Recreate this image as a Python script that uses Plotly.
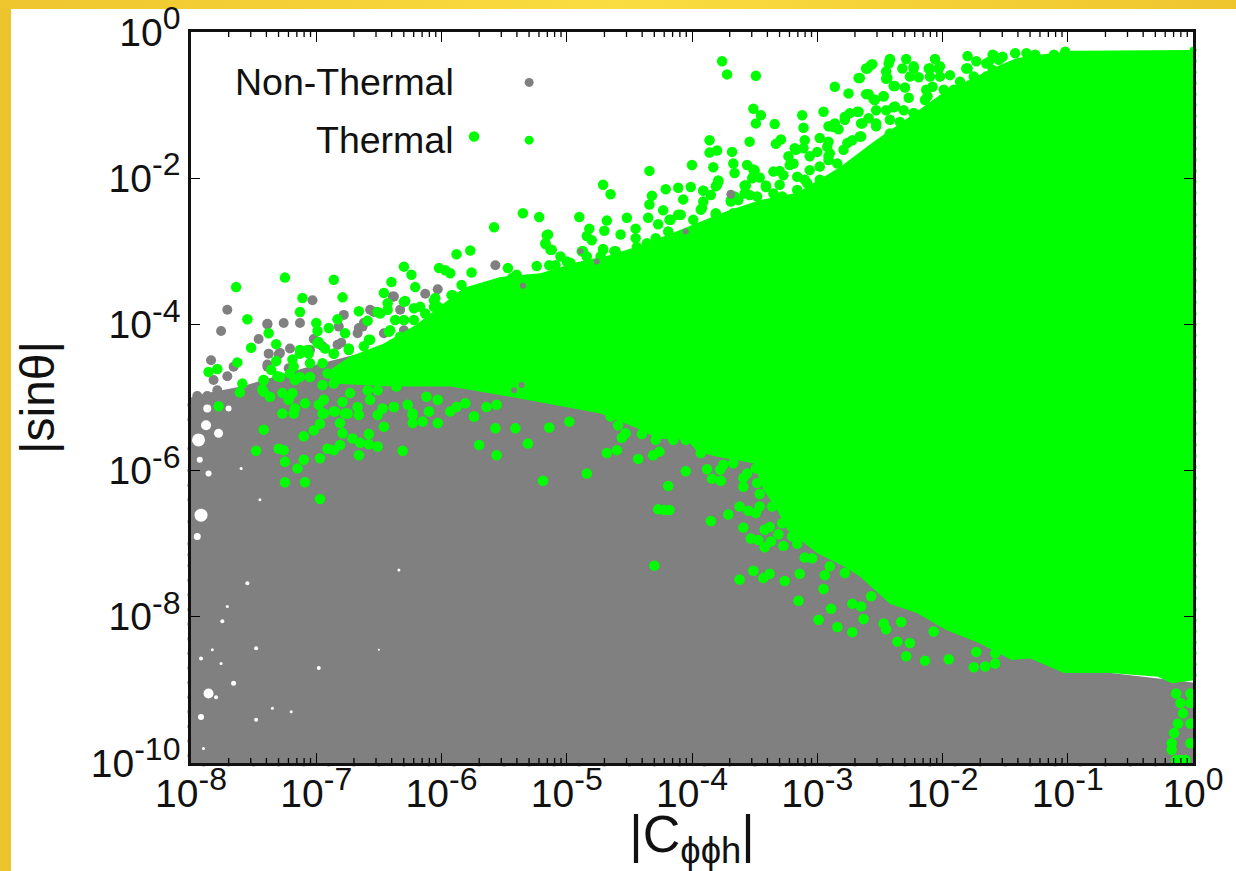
import plotly.graph_objects as go

# All values are log10(|C|), log10(|sin theta|).
gray_region = [(-8, -10), (0, -10), (0, -8.9), (-1, -8.7), (-2.5, -7.3), (-3.3, -5.8), (-4.5, -5.0), (-5.5, -4.6),
               (-6.3, -4.3), (-6.7, -4.42), (-7.0, -4.55), (-7.3, -4.7), (-7.6, -4.85), (-7.9, -4.95), (-8, -5.0)]

green_upper = [(-6.89, -4.62), (-6.73, -4.44), (-6.46, -4.26), (-6.20, -4.0), (-5.82, -3.5), (-5.53, -3.35),
               (-5.21, -3.3), (-4.92, -3.15), (-4.65, -3.05), (-4.47, -2.95), (-4.20, -2.78), (-3.93, -2.60),
               (-3.72, -2.45), (-3.46, -2.3), (-3.16, -2.2), (-2.82, -1.85), (-2.55, -1.5), (-2.34, -1.25),
               (-2.13, -1.0), (-1.97, -0.8), (-1.78, -0.65), (-1.54, -0.45), (-1.41, -0.36), (-1.18, -0.30),
               (-0.96, -0.255), (-0.5, -0.25), (0, -0.246)]
green_lower = [(0, -8.87), (-0.17, -8.91), (-0.28, -8.82), (-0.66, -8.77), (-1.03, -8.77), (-1.30, -8.57),
               (-1.45, -8.59), (-1.71, -8.36), (-1.97, -8.18), (-2.20, -7.95), (-2.42, -7.82), (-2.66, -7.45),
               (-2.79, -7.31), (-3.00, -7.13), (-3.24, -6.81), (-3.32, -6.54), (-3.43, -6.26), (-3.51, -5.90),
               (-3.80, -5.81), (-3.96, -5.74), (-4.04, -5.58), (-4.28, -5.56), (-4.41, -5.44), (-4.73, -5.22),
               (-5.45, -4.99), (-5.93, -4.85), (-6.38, -4.85), (-6.89, -4.81)]

green_points = [
    (-7.64, -3.49), (-7.25, -3.36), (-6.86, -3.39), (-6.30, -3.21), (-6.02, -3.23), (-5.97, -3.26), (-5.93, -3.30),
    (-5.88, -3.04), (-5.77, -2.99), (-5.58, -2.67), (-6.24, -3.32), (-6.40, -3.42), (-6.21, -3.49), (-6.46, -3.57),
    (-7.11, -3.64), (-6.79, -3.63), (-7.55, -3.93), (-7.13, -3.83), (-6.66, -3.82), (-7.0, -3.98), (-6.90, -4.05),
    (-6.83, -3.93), (-7.38, -4.12), (-7.32, -4.27), (-7.52, -4.32), (-7.63, -4.52), (-7.79, -4.61), (-7.86, -4.65),
    (-7.59, -4.81), (-7.42, -4.76), (-7.61, -4.93), (-5.76, -3.29), (-5.84, -3.46), (-5.92, -3.60), (-6.06, -3.67),
    (-7.13, -4.40), (-6.99, -4.26), (-7.18, -4.58), (-7.31, -4.71), (-7.42, -4.92), (-6.86, -4.40), (-6.74, -4.35),
    (-6.58, -4.21), (-6.42, -4.10), (-6.30, -3.94), (-6.17, -3.76), (-6.06, -3.76), (-6.43, -3.71), (-6.30, -3.69),
    (-6.49, -3.85), (-6.77, -4.12), (-5.74, -1.43),
    # left end of the thermal cloud
    (-6.99, -4.09), (-6.59, -3.95), (-6.51, -3.83), (-6.43, -3.80), (-6.37, -3.94), (-6.29, -3.68), (-6.22, -3.78),
    (-6.13, -3.85), (-6.05, -3.64), (-6.04, -3.74), (-6.01, -3.78), (-5.91, -3.60), (-5.90, -3.74), (-5.88, -3.80),
    (-6.22, -3.94), (-6.03, -3.99), (-5.93, -4.03), (-6.33, -4.17), (-6.41, -4.08), (-6.57, -4.21), (-6.62, -4.30),
    (-6.74, -4.33), (-6.86, -4.40), (-6.98, -4.24), (-6.93, -4.33), (-7.06, -4.40), (-7.13, -4.35), (-7.19, -4.48),
    (-7.32, -4.50), (-7.36, -4.62), (-7.42, -4.76), (-7.43, -4.89), (-7.37, -4.99), (-7.27, -4.94), (-7.19, -4.94),
    (-7.22, -5.03), (-7.21, -4.67), (-7.29, -4.72), (-7.13, -4.72), (-7.05, -4.53), (-7.05, -4.72), (-7.07, -4.35),
    (-7.17, -4.76), (-6.95, -4.53), (-6.91, -4.67), (-6.83, -4.67), (-6.86, -4.81), (-6.95, -4.83), (-6.73, -4.62),
    (-6.73, -4.94), (-6.59, -4.90), (-6.50, -4.53), (-6.62, -4.62), (-6.46, -4.76), (-6.33, -4.53), (-6.36, -4.85),
    (-6.51, -4.90), (-7.09, -5.08), (-6.98, -5.10), (-6.94, -5.03), (-6.79, -5.06), (-6.67, -5.13), (-6.57, -5.03),
    (-6.47, -5.15), (-6.38, -5.13), (-6.27, -5.10), (-6.23, -5.24), (-6.12, -4.99), (-6.10, -5.19), (-5.93, -5.19),
    (-5.88, -5.13), (-5.74, -5.26), (-5.64, -5.13), (-5.56, -5.10), (-7.27, -5.22), (-7.17, -5.15), (-6.95, -5.22),
    (-6.86, -5.19), (-6.77, -5.22), (-6.51, -5.24), (-5.81, -5.08), (-6.03, -5.03),
    # upper edge, middle
    (-3.76, -0.40), (-3.72, -0.58), (-3.49, -0.60), (-3.51, -1.05), (-3.45, -1.14), (-3.49, -1.25), (-3.34, -1.26),
    (-3.12, -1.14), (-3.11, -1.31), (-2.95, -1.09), (-2.86, -0.75), (-2.75, -0.84), (-2.66, -0.63), (-2.57, -0.45),
    (-2.61, -0.50), (-2.42, -0.37), (-2.43, -0.43), (-2.29, -0.37), (-2.32, -0.50), (-2.45, -0.54), (-2.45, -0.64),
    (-2.38, -0.74), (-2.30, -0.76), (-2.27, -0.90), (-2.61, -0.85), (-2.55, -0.92), (-2.47, -0.88), (-2.23, -0.50),
    (-2.06, -0.37), (-2.10, -0.50), (-2.03, -0.50), (-1.80, -0.33), (-1.73, -0.40), (-1.80, -0.50), (-1.60, -0.31),
    (-1.42, -0.29), (-1.33, -0.29), (-1.52, -0.34), (-1.63, -0.41), (-1.56, -0.57), (-1.78, -0.75), (-2.08, -0.75),
    (-2.12, -0.88), (-3.86, -1.48), (-3.86, -1.65), (-3.80, -1.62), (-3.68, -1.64), (-3.54, -1.50), (-3.29, -1.47),
    (-3.33, -1.53), (-3.67, -1.80), (-3.66, -1.93), (-4.0, -1.82), (-3.83, -1.85), (-4.34, -1.90), (-3.56, -1.82),
    (-3.50, -1.89), (-3.35, -1.91), (-4.71, -2.09), (-4.65, -2.22), (-4.21, -2.15), (-4.11, -2.13), (-4.01, -2.12),
    (-4.32, -2.24), (-4.34, -2.36), (-4.07, -2.29), (-3.79, -2.05), (-3.81, -2.11), (-3.91, -2.17), (-5.35, -2.48),
    (-5.22, -2.53), (-4.90, -2.53), (-4.68, -2.58), (-4.52, -2.54), (-4.35, -2.54), (-4.23, -2.44), (-5.16, -2.78),
    (-5.17, -2.90), (-5.13, -2.98), (-5.05, -3.07), (-5.0, -3.14), (-4.84, -2.79), (-4.80, -2.85), (-4.82, -2.69),
    (-4.70, -2.72), (-4.57, -2.77), (-4.45, -2.69), (-4.87, -3.0), (-4.71, -2.97), (-4.61, -3.0), (-5.24, -3.20),
    (-5.14, -3.19), (-5.47, -3.23), (-5.40, -3.32), (-4.18, -2.57), (-4.27, -2.63), (-4.11, -2.50), (-3.92, -2.41),
    (-3.81, -2.48), (-3.66, -2.25), (-3.58, -2.21), (-3.49, -2.48), (-3.69, -2.30), (-3.28, -2.25), (-3.51, -1.98),
    (-3.41, -2.12), (-3.30, -2.09), (-3.17, -1.61), (-3.23, -1.70), (-3.19, -1.80), (-3.10, -1.48), (-2.98, -1.45),
    (-2.91, -1.50), (-3.06, -1.70), (-2.91, -1.70), (-3.10, -2.02), (-2.76, -1.52), (-2.65, -1.43), (-2.87, -1.30),
    (-2.78, -1.16), (-2.68, -1.09), (-2.53, -1.07), (-2.38, -1.02), (-2.23, -1.11), (-2.42, -1.20), (-2.53, -1.25),
    (-2.65, -1.25),
    (-5.15, -2.77), (-5.17, -2.89), (-5.12, -2.98), (-4.97, -3.16), (-5.09, -3.19), (-5.44, -3.37), (-5.32, -3.39),
    (-4.88, -3.0), (-4.71, -2.98), (-4.62, -3.0), (-4.84, -3.07), (-4.73, -3.07), (-4.60, -3.16), (-4.45, -2.82),
    (-4.44, -2.94), (-4.29, -2.82), (-4.36, -2.89), (-4.19, -2.73), (-4.17, -2.57), (-4.09, -2.50), (-3.93, -2.43),
    (-3.91, -2.32), (-3.91, -2.17), (-3.85, -2.23), (-3.80, -2.09), (-3.79, -2.03), (-3.81, -2.50), (-3.51, -1.88),
    (-3.52, -2.0), (-3.57, -2.10), (-3.69, -2.32), (-3.63, -2.30), (-3.67, -2.48), (-3.48, -2.48), (-3.72, -2.59),
    (-3.99, -2.57), (-3.85, -2.62), (-3.27, -1.96), (-3.35, -2.21), (-3.54, -2.23), (-3.27, -2.30), (-3.48, -2.25),
    (-3.16, -1.98), (-3.06, -1.89), (-2.98, -1.84), (-2.91, -1.75), (-2.84, -1.80), (-2.79, -1.61), (-2.72, -1.48),
    (-2.66, -1.43), (-2.91, -1.29), (-2.86, -1.25), (-2.83, -1.33), (-2.78, -1.20), (-2.74, -1.11), (-2.67, -1.09),
    (-2.64, -1.25), (-2.59, -1.18), (-2.53, -1.29), (-2.45, -1.07), (-2.39, -1.03), (-2.47, -0.88), (-2.54, -0.93),
    (-2.59, -0.85), (-2.67, -0.63), (-2.60, -0.50), (-2.56, -0.44), (-2.42, -0.38), (-2.44, -0.63), (-2.39, -0.74),
    (-2.23, -0.47), (-2.26, -0.61), (-2.19, -0.62), (-2.11, -0.50), (-2.02, -0.47), (-2.10, -0.61), (-2.02, -0.61),
    (-2.13, -0.79), (-2.14, -0.93), (-2.09, -1.04), (-1.94, -0.59), (-1.86, -0.68), (-1.99, -0.79), (-2.02, -0.98),
    (-1.91, -0.79), (-1.81, -0.50), (-1.65, -0.43), (-1.59, -0.32), (-1.55, -0.38), (-1.75, -0.70), (-1.65, -0.61),
    (-1.86, -0.88), (-1.69, -0.79), (-2.42, -1.39), (-2.31, -1.07), (-2.23, -1.11), (-2.17, -1.18), (-2.34, -1.23),
    (-3.16, -2.16), (-3.08, -2.07), (-2.98, -2.02), (-2.87, -2.07), (-3.18, -1.59), (-3.11, -1.59), (-3.0, -1.64),
    (-2.92, -1.57), (-2.90, -1.66), (-3.22, -1.82), (-3.46, -1.99), (-3.41, -2.10), (-3.58, -2.10), (-3.30, -1.90),
    (-1.26, -0.31), (-1.17, -0.43), (-1.11, -0.31), (-1.02, -0.27), (-1.45, -0.47), (-1.30, -0.38), (-1.75, -0.61),
    (-1.60, -0.52),
    # lower edge, left
    (-7.78, -5.12), (-7.42, -5.44), (-7.48, -5.73), (-7.30, -5.70), (-7.26, -5.72), (-7.25, -5.88), (-7.10, -5.85),
    (-7.15, -5.97), (-7.25, -6.16), (-7.09, -6.16), (-6.97, -6.39), (-6.97, -5.83), (-7.10, -5.53), (-7.02, -5.45),
    (-6.97, -5.36), (-6.91, -5.70), (-6.86, -5.72), (-6.81, -5.65), (-6.66, -5.79), (-6.81, -5.35), (-6.79, -5.49),
    (-6.71, -5.56), (-6.65, -5.62), (-6.58, -5.64), (-6.51, -5.67), (-6.58, -5.50), (-6.46, -5.40), (-6.31, -5.73),
    (-6.23, -5.35), (-6.15, -5.33), (-6.03, -5.35), (-5.70, -5.65), (-5.56, -5.79), (-5.57, -5.42), (-7.18, -5.22),
    (-6.94, -5.22), (-6.85, -5.19), (-6.75, -5.22), (-6.66, -5.24), (-6.38, -5.13), (-6.23, -5.22), (-6.10, -5.19),
    (-5.74, -5.26),
    # lower edge, right
    (-5.41, -5.42), (-5.31, -5.63), (-5.14, -5.41), (-4.98, -5.33), (-5.19, -6.14), (-4.84, -6.04), (-4.68, -5.76),
    (-4.60, -5.72), (-4.43, -5.84), (-4.31, -5.79), (-4.26, -5.74), (-4.05, -6.01), (-4.19, -6.21), (-4.27, -6.53),
    (-4.22, -6.54), (-4.18, -6.54), (-4.30, -7.30), (-3.85, -6.69), (-3.71, -6.60), (-3.62, -6.49), (-3.55, -6.55),
    (-3.49, -6.58), (-3.59, -6.78), (-3.42, -6.81), (-3.38, -6.77), (-3.53, -6.93), (-3.47, -6.95), (-3.37, -6.97),
    (-3.42, -7.05), (-3.27, -7.03), (-3.62, -7.49), (-3.51, -7.37), (-3.43, -7.47), (-3.38, -7.41), (-3.26, -7.51),
    (-3.14, -7.41), (-3.15, -7.78), (-2.99, -8.04), (-2.89, -7.89), (-2.84, -8.14), (-2.72, -8.21), (-2.95, -7.62),
    (-2.94, -7.43), (-2.72, -7.82), (-2.65, -7.86), (-2.57, -7.72), (-2.63, -8.03), (-2.47, -8.09), (-2.45, -8.17),
    (-2.33, -8.07), (-2.36, -8.34), (-2.26, -8.36), (-2.29, -8.54), (-2.14, -8.60), (-1.95, -8.58), (-1.75, -8.69),
    (-1.66, -8.68), (-1.73, -8.48), (-1.58, -8.50), (-1.58, -8.64), (-2.07, -8.20), (-3.88, -5.98), (-3.84, -6.11),
    (-3.77, -6.14), (-3.10, -7.19), (-3.04, -7.20), (-2.90, -7.31), (-2.78, -7.40),
    (-4.56, -5.55), (-4.53, -5.49), (-4.59, -5.38), (-4.65, -5.26), (-4.40, -5.50), (-4.29, -5.58), (-4.15, -5.58),
    (-4.05, -5.58), (-3.93, -5.76), (-3.775, -5.99), (-3.67, -5.90), (-3.75, -5.92), (-3.56, -6.04), (-3.49, -5.97),
    (-3.59, -6.10), (-3.48, -6.17), (-3.59, -6.22), (-3.46, -6.32), (-3.46, -6.49), (-3.36, -6.49), (-3.31, -6.87),
    (-3.16, -7.0), (-3.28, -6.72), (-3.20, -6.90),
    # bottom right corner
    (-0.135, -9.05), (-0.10, -9.18), (-0.08, -9.32), (-0.12, -9.46), (-0.15, -9.59), (-0.17, -9.73), (-0.17, -9.82),
    (-0.135, -9.96), (-0.06, -9.96), (-0.02, -9.05), (-0.02, -9.18), (-0.02, -9.73), (-0.02, -9.46), (-0.10, -9.96),
]

green_right_edge = [-0.25, -0.4, -0.55, -0.7, -0.85, -1.0, -1.15, -1.3, -1.45, -1.6, -1.75, -1.9, -2.05, -2.2, -2.35,
                    -2.5, -2.65, -2.8, -2.95, -3.1, -3.25, -3.4, -3.55, -3.7, -3.85, -4.0, -4.15, -4.3, -4.45, -4.6,
                    -4.75, -4.9, -5.05, -5.2, -5.35, -5.5, -5.65, -5.8, -5.95, -6.1, -6.25, -6.4, -6.55, -6.7, -6.85,
                    -7.0, -7.15, -7.3, -7.45, -7.6, -7.75, -7.9, -8.05, -8.2, -8.35, -8.5, -8.65, -8.8]

gray_points = [
    (-7.71, -3.80), (-7.76, -4.09), (-7.84, -4.49), (-7.46, -4.20), (-7.39, -3.99), (-7.26, -3.98), (-7.13, -3.98),
    (-7.03, -3.67), (-6.78, -3.87), (-6.54, -3.83), (-6.39, -3.62), (-6.13, -3.58), (-6.03, -3.52), (-7.38, -4.40),
    (-7.29, -4.39), (-7.21, -4.33), (-6.66, -4.05), (-6.82, -4.03), (-6.80, -4.25), (-7.02, -4.20), (-6.38, -3.62),
    (-6.33, -3.80), (-6.62, -3.98), (-7.82, -4.76), (-7.71, -4.71), (-7.66, -4.58), (-7.79, -4.90), (-7.95, -4.98),
    (-7.87, -4.98), (-7.55, -4.90), (-7.39, -4.58), (-7.22, -4.60), (-7.05, -4.35), (-6.95, -4.30), (-7.95, -5.1),
    (-7.39, -4.0), (-7.30, -4.41), (-7.39, -4.55), (-6.83, -4.28), (-6.67, -4.12), (-6.63, -4.03), (-6.57, -3.80),
    (-5.86, -3.67), (-6.30, -4.08), (-6.46, -4.12), (-5.57, -3.19),
]
gray_left_edge = [-5.1, -5.3, -5.7, -6.0, -6.2, -6.4, -6.7, -7.0, -7.15, -7.3, -7.5, -7.7, -7.9, -8.1, -8.3, -8.5,
                  -8.7, -8.9, -9.1, -9.3, -9.5, -9.7, -9.9]
gray_bottom_edge = [-7.9, -7.7, -7.5, -7.3, -7.1, -6.9, -6.7, -6.5, -6.3, -6.1, -5.9, -5.7, -5.5, -5.3, -5.1, -4.9,
                    -4.7, -4.5, -4.3, -4.1, -3.9, -3.7, -3.5, -3.3, -3.1, -2.9, -2.7, -2.5, -2.3, -2.1, -1.9, -1.7,
                    -1.5, -1.3, -1.1, -0.9, -0.7, -0.5, -0.3]
gray_specks = [(-5.35, -3.47), (-5.36, -4.83), (-4.89, -3.0), (-4.05, -2.73), (-4.76, -3.14), (-5.42, -4.90)]
gray_dot = [(-3.69, -2.22)]

# Empty places in the non-thermal cloud: log10 x, log10 y, width of the gap
gaps = [(-7.92, -6.61, 13), (-7.94, -5.58, 13), (-7.86, -6.04, 6), (-7.95, -6.90, 7), (-7.86, -9.05, 10),
        (-7.66, -8.91, 5), (-7.92, -9.37, 6), (-7.92, -8.57, 4), (-7.75, -8.06, 4), (-7.48, -8.43, 4), (-7.55, -7.54, 4),
        (-6.98, -8.70, 4), (-7.48, -9.41, 4), (-7.90, -9.80, 3), (-7.71, -7.86, 3), (-7.83, -8.45, 3), (-7.76, -8.64, 3),
        (-7.45, -6.40, 3), (-6.34, -7.36, 3), (-7.60, -5.97, 3), (-7.78, -5.49, 9), (-7.88, -5.38, 10), (-7.70, -5.15, 6),
        (-7.87, -5.15, 8), (-7.93, -5.85, 6), (-7.80, -9.1, 4), (-7.2, -9.3, 3), (-7.35, -9.25, 3), (-6.5, -8.45, 2)]

legend_gray = (-5.30, -0.69)
legend_green = (-5.30, -1.48)

x_tick_exponents = [-8, -7, -6, -5, -4, -3, -2, -1, 0]
y_tick_exponents = [-10, -8, -6, -4, -2, 0]
minor_multipliers = [2, 3, 4, 5, 6, 7, 8, 9]

GRAY = "#808080"
GREEN = "#00FF00"
INK = "#111111"
SUP = "<span style='font-size:32px'>%d</span>"
MINOR_TICK_DECADES = 0.068  # 5 px on the y scale


def xs(pts):
    return [10 ** p[0] for p in pts]


def ys(pts):
    return [10 ** p[1] for p in pts]


def tick_label(e):
    return "10<sup>" + SUP % e + "</sup>"


def cloud(pts, color, size):
    return go.Scatter(x=xs(pts), y=ys(pts), mode="markers", cliponaxis=False, hoverinfo="skip", showlegend=False,
                      marker=dict(color=color, size=size, opacity=1, line=dict(width=0)))


def region(pts, color):
    closed = pts + pts[:1]
    return go.Scatter(x=xs(closed), y=ys(closed), mode="lines", fill="toself", fillcolor=color, hoverinfo="skip",
                      line=dict(color=color, width=0), showlegend=False)


def x_ticks(values, decades):
    tx, ty = [], []
    for v in values:
        tx += [v, v, None, v, v, None]
        ty += [1e-10, 10 ** (-10 + decades), None, 1.0, 10 ** (-decades), None]
    return go.Scatter(x=tx, y=ty, mode="lines", hoverinfo="skip", showlegend=False,
                      line=dict(color="#000000", width=1.3))


x_values = [10.0 ** e for e in x_tick_exponents]
x_minor_values = [m * 10.0 ** e for e in x_tick_exponents[:-1] for m in minor_multipliers]

fig = go.Figure()
fig.add_trace(region(gray_region, GRAY))
fig.add_trace(cloud([(-8, v) for v in gray_left_edge], GRAY, 7))
fig.add_trace(cloud([(v, -10) for v in gray_bottom_edge], GRAY, 7))
fig.add_trace(cloud(gaps, "white", [g[2] for g in gaps]))
fig.add_trace(cloud(gray_points, GRAY, 10))
fig.add_trace(region(green_upper + green_lower, GREEN))
fig.add_trace(cloud([(0, v) for v in green_right_edge], GREEN, 7))
fig.add_trace(cloud(green_points, GREEN, 10.5))
fig.add_trace(cloud(gray_specks, GRAY, 6))
fig.add_trace(cloud(gray_dot, GRAY, 9))
fig.add_trace(cloud([legend_gray], GRAY, 9))
fig.add_trace(cloud([legend_green], GREEN, 9))
fig.add_trace(x_ticks(x_minor_values, MINOR_TICK_DECADES))

axis_common = dict(type="log", showgrid=False, zeroline=False, showline=True, linecolor=INK, linewidth=2.5,
                   automargin=False, ticks="inside", tickcolor="#000000", tickwidth=1.3,
                   tickfont=dict(family="Liberation Sans", size=39, color=INK))

fig.update_layout(
    width=1236, height=871, autosize=False,
    margin=dict(l=190.5, r=43, t=32, b=108, pad=0),
    paper_bgcolor="rgba(0,0,0,0)", plot_bgcolor="white",
    font=dict(family="Liberation Sans", color=INK),
    showlegend=False,
    xaxis=dict(axis_common, range=[-8, 0], mirror="ticks", ticklen=10, ticklabelstandoff=-6,
               ticklabeloverflow="allow", tickmode="array", tickvals=x_values,
               ticktext=[tick_label(e) for e in x_tick_exponents],
               title=dict(text="|C<sub>ϕϕh</sub>|", standoff=10, font=dict(size=52))),
    yaxis=dict(axis_common, range=[-10, 0], mirror="ticks", ticklen=9, ticklabeloverflow="allow",
               tickmode="array", tickvals=[10.0 ** e for e in y_tick_exponents],
               ticktext=[tick_label(e) for e in y_tick_exponents],
               title=dict(text="|sinθ|", standoff=22, font=dict(size=48))),
    annotations=[
        dict(x=-5.885, y=-0.69, xref="x", yref="y", xanchor="right", yanchor="middle", showarrow=False,
             text="Non-Thermal", font=dict(size=37.5, family="Liberation Sans", color=INK)),
        dict(x=-5.885, y=-1.48, xref="x", yref="y", xanchor="right", yanchor="middle", showarrow=False,
             text="Thermal", font=dict(size=37.5, family="Liberation Sans", color=INK)),
    ],
)

page_style = """
document.documentElement.style.overflow='hidden';
document.body.style.cssText='margin:0;padding:0;overflow:hidden;background:'
  + 'linear-gradient(90deg,#EFC52E,#FADD40 50%,#EFC52E) top/100% 9px no-repeat,'
  + 'linear-gradient(#EEC42E,#EEC42E) left/11px 100% no-repeat,white;';
"""
fig.write_html("out.html", post_script=page_style, config={"displayModeBar": False})
